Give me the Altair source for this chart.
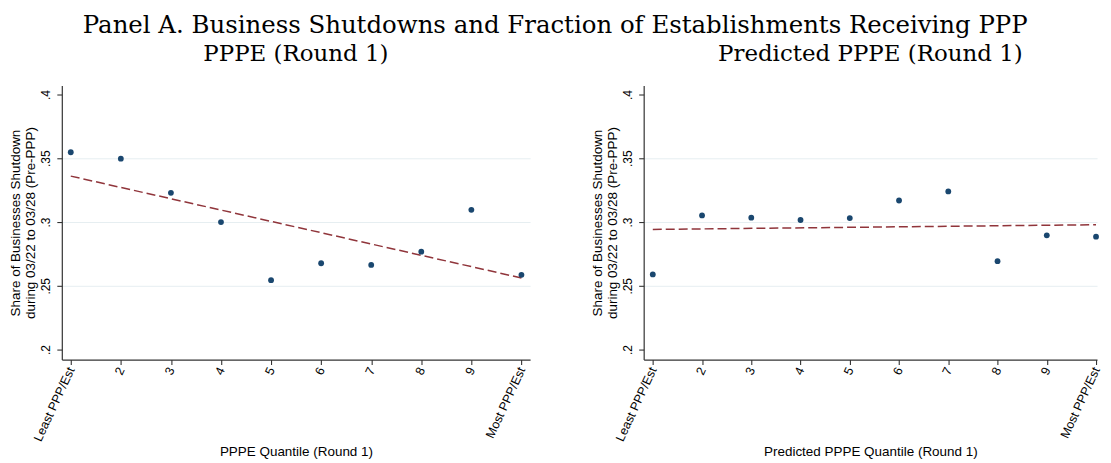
import altair as alt
import pandas as pd

# ---- data ----
quantiles = [1, 2, 3, 4, 5, 6, 7, 8, 9, 10]
shutdown_pppe = [0.3547, 0.3497, 0.3229, 0.3000, 0.2544, 0.2677, 0.2664, 0.2768, 0.3096, 0.2586]
shutdown_pred = [0.2589, 0.3052, 0.3034, 0.3016, 0.3031, 0.3169, 0.3240, 0.2693, 0.2896, 0.2885]
y_ticks = [0.2, 0.25, 0.3, 0.35, 0.4]
first_label = "Least PPP/Est"
last_label = "Most PPP/Est"
main_title = "Panel A. Business Shutdowns and Fraction of Establishments Receiving PPP"
panel_titles = ["PPPE (Round 1)", "Predicted PPPE (Round 1)"]
x_titles = ["PPPE Quantile (Round 1)", "Predicted PPPE Quantile (Round 1)"]
y_title = ["Share of Businesses Shutdown", "during 03/22 to 03/28 (Pre-PPP)"]

NAVY = "#1a476f"
MAROON = "#90353b"
AXIS = "#333333"
GRID = "#e6eef1"
SANS = "Liberation Sans"
SERIF = "DejaVu Serif"

x_label_expr = (
    f"datum.value == 1 ? '{first_label}' : "
    f"(datum.value == 10 ? '{last_label}' : format(datum.value, 'd'))"
)


def panel(values, xtitle, ptitle, width, xdomain):
    df = pd.DataFrame({"q": quantiles, "share": values})
    base = alt.Chart(df)
    x = alt.X(
        "q:Q",
        scale=alt.Scale(domain=xdomain, nice=False, zero=False),
        axis=alt.Axis(
            values=quantiles,
            title=xtitle,
            labelExpr=x_label_expr,
            labelAngle=295,
            labelAlign="right",
            labelBaseline="middle",
            labelFlush=False,
            labelOverlap=False,
            labelFont=SANS,
            labelFontSize=12.5,
            labelColor="black",
            labelPadding=3,
            titleFont=SANS,
            titleFontSize=13.5,
            titleFontWeight="normal",
            titleColor="black",
            titlePadding=2,
            grid=False,
            tickSize=5,
            tickColor=AXIS,
            tickWidth=1.1,
            domainColor=AXIS,
            domainWidth=1.2,
        ),
    )
    y = alt.Y(
        "share:Q",
        scale=alt.Scale(domain=[0.1922, 0.4070], nice=False, zero=False),
        axis=alt.Axis(
            values=y_ticks,
            title=y_title,
            labelExpr="slice(format(datum.value, '.2~f'), 1)",
            labelAngle=270,
            labelAlign="center",
            labelBaseline="bottom",
            labelFlush=False,
            labelOverlap=False,
            labelFont=SANS,
            labelFontSize=12,
            labelColor="black",
            labelPadding=4,
            titleFont=SANS,
            titleFontSize=13.5,
            titleFontWeight="normal",
            titleColor="black",
            titleLineHeight=15,
            titlePadding=2.5,
            grid=True,
            gridColor=GRID,
            gridWidth=1,
            gridOpacity=alt.condition(
                "datum.value < 0.21 || datum.value > 0.39", alt.value(0), alt.value(1)
            ),
            tickSize=5,
            tickColor=AXIS,
            tickWidth=1.1,
            domainColor=AXIS,
            domainWidth=1.2,
        ),
    )
    fit = (
        base.transform_regression("q", "share", extent=[1, 10])
        .mark_line(color=MAROON, strokeDash=[9, 4], strokeWidth=1.5)
        .encode(x=x, y=y)
    )
    pts = base.mark_circle(size=34, color=NAVY, opacity=1).encode(x=x, y=y)
    return alt.layer(fit, pts).properties(
        width=width,
        height=275,
        title=alt.TitleParams(
            ptitle,
            font=SERIF,
            fontSize=23,
            fontWeight="normal",
            color="black",
            anchor="middle",
            offset=20,
        ),
    )


left = panel(shutdown_pppe, x_titles[0], panel_titles[0], 470, [0.821, 10.173])
right = panel(shutdown_pred, x_titles[1], panel_titles[1], 455, [0.815, 10.02])

chart = (
    alt.hconcat(left, right, spacing=59)
    .properties(
        title=alt.TitleParams(
            main_title,
            font=SERIF,
            fontSize=24.5,
            fontWeight="normal",
            color="black",
            anchor="middle",
            offset=4,
        ),
        padding={"left": 0, "top": 4, "right": 0, "bottom": 0},
        background="white",
    )
    .configure_view(stroke="transparent")
)

chart.save("out.html", embed_options={"renderer": "svg", "actions": False})
